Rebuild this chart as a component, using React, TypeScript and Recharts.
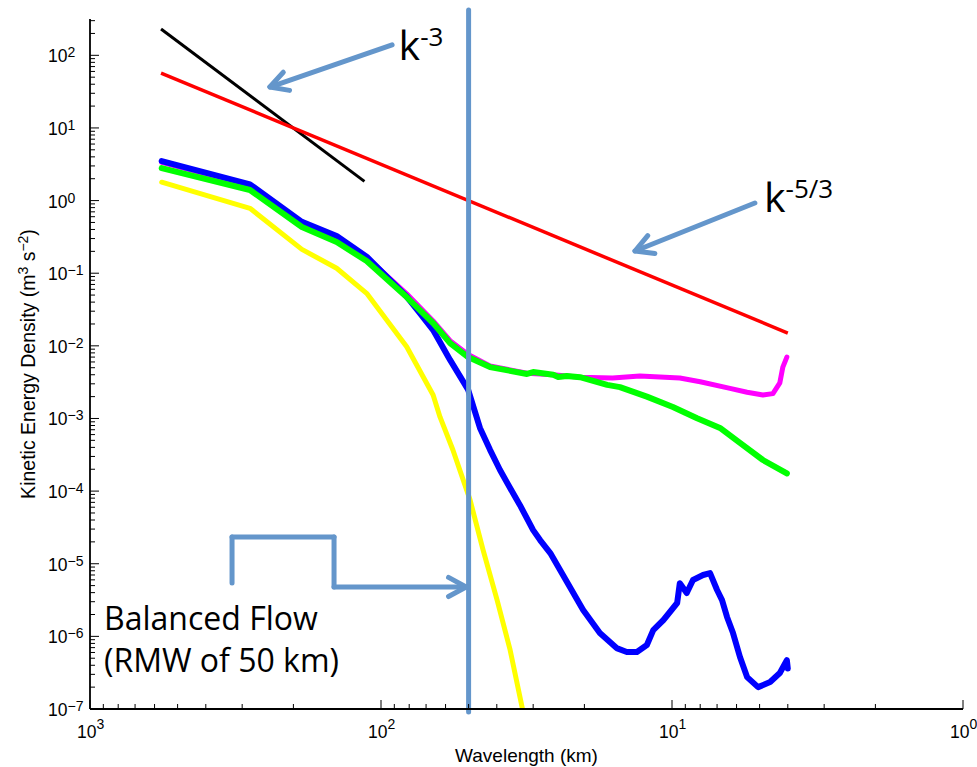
import React from 'react';
import { LineChart, Line, XAxis, YAxis, ReferenceLine, ReferenceDot } from 'recharts';

// ---------- data (wavelength in km, kinetic energy density) ----------
const blueSeries: [number, number][] = [
  [567, 3.5], [282, 1.67], [187, 0.51], [142, 0.325], [112, 0.169], [81.6, 0.0475],
  [74.0, 0.029], [66.2, 0.0165], [57.9, 0.0064], [50.2, 0.0025], [45.7, 7.4e-4],
  [42.2, 3.7e-4], [39.0, 1.95e-4], [35.2, 9.4e-5], [33.3, 6.4e-5], [30.0, 2.9e-5],
  [28.4, 2.12e-5], [26.2, 1.4e-5], [20.2, 2.31e-6], [17.7, 1.11e-6], [15.5, 6.9e-7],
  [14.3, 6.1e-7], [13.2, 6.1e-7], [12.2, 7.6e-7], [11.6, 1.22e-6], [10.7, 1.68e-6],
  [9.6, 2.88e-6], [9.4, 5.4e-6], [8.9, 3.95e-6], [8.47, 5.97e-6], [7.82, 7.0e-6],
  [7.4, 7.45e-6], [7.0, 4.35e-6], [6.73, 3.16e-6], [6.47, 1.85e-6], [6.17, 1.11e-6],
  [5.84, 5.2e-7], [5.52, 2.75e-7], [5.06, 2.0e-7], [4.6, 2.35e-7], [4.26, 3.13e-7],
  [4.03, 4.7e-7], [4.0, 3.6e-7],
];
const magentaSeries: [number, number][] = [
  [567, 3.35], [282, 1.6], [187, 0.49], [142, 0.31], [112, 0.165], [81.6, 0.052],
  [66.2, 0.022], [57.9, 0.0118], [50.2, 0.0076], [42.2, 0.0053], [31.5, 0.0042],
  [25.6, 0.004], [20.7, 0.0037], [16.0, 0.0036], [12.9, 0.00385], [9.4, 0.0036],
  [8.0, 0.0032], [6.32, 0.0026], [5.52, 0.0023], [4.87, 0.0021], [4.5, 0.0022],
  [4.26, 0.0031], [4.16, 0.0051], [4.03, 0.007],
];
const greenSeries: [number, number][] = [
  [567, 2.8], [282, 1.4], [187, 0.433], [142, 0.269], [112, 0.147], [81.6, 0.047],
  [66.2, 0.0206], [57.9, 0.0109], [50.2, 0.007], [42.2, 0.0051], [31.5, 0.0041],
  [30.0, 0.00436], [25.6, 0.004], [24.6, 0.00372], [23.0, 0.00385], [20.7, 0.0037],
  [16.7, 0.0029], [15.1, 0.0027], [12.2, 0.002], [9.93, 0.00144], [8.2, 0.00101],
  [6.84, 7.4e-4], [5.84, 4.6e-4], [4.87, 2.68e-4], [4.03, 1.75e-4],
];
const yellowSeries: [number, number][] = [
  [567, 1.79], [282, 0.783], [187, 0.213], [142, 0.117], [112, 0.0529], [81.6, 0.00973],
  [66.2, 0.0021], [62.7, 0.00105], [56.6, 3.68e-4], [49.4, 7.5e-5], [44.6, 1.55e-5],
  [39.9, 3.16e-6], [36.0, 6.5e-7], [32.7, 1.03e-7],
];
const kMinus3Series: [number, number][] = [[570, 230], [114, 1.84]];
const kMinus53Series: [number, number][] = [[570, 57], [4.0, 0.015]];

// ---------- axes ----------
const xMajorTicks = [1000, 100, 10, 1];
const xTickExponents = ['3', '2', '1', '0'];
const yMajorTicks = [1e-7, 1e-6, 1e-5, 1e-4, 1e-3, 1e-2, 1e-1, 1, 10, 100];
const yTickExponents = ['−7', '−6', '−5', '−4', '−3', '−2', '−1', '0', '1', '2'];
const minorMultipliers = [2, 3, 4, 5, 6, 7, 8, 9];
const xDomain: [number, number] = [1, 1000];
const yDomain: [number, number] = [1e-7, 316.2278];

// ---------- annotations (data coordinates) ----------
const rmwKm = 50;
const rmwLineEnds: [number, number] = [9.1e-8, 421];
const kMinus3Arrow: [number, number][] = [[91.6, 139], [241, 36.6]];
const kMinus53Arrow: [number, number][] = [[5.19, 0.926], [13.4, 0.202]];
const bracketPath: [number, number][] = [[325, 5.43e-6], [325, 2.33e-5], [145, 2.33e-5], [145, 4.79e-6], [51, 4.79e-6]];
const kMinus3LabelPos: [number, number] = [87, 86];
const kMinus53LabelPos: [number, number] = [4.83, 0.7];
const balancedLabelPos: [number, number] = [895, 1.22e-6];

const toPoints = (s: [number, number][]) => s.map(([x, y]) => ({ x, y }));
const withMinor = (majors: number[], max: number) => {
  const out: number[] = [];
  majors.forEach((m) => {
    out.push(m);
    minorMultipliers.forEach((k) => {
      const v = m * k;
      if (v < max) out.push(v);
    });
  });
  return out.sort((a, b) => a - b);
};
const xTicks = withMinor([1, 10, 100], 1000).concat([1000]);
const yTicks = withMinor(yMajorTicks, yDomain[1]);

const isMajor = (v: number) => Math.abs(Math.log10(v) - Math.round(Math.log10(v))) < 1e-6;
const findIdx = (arr: number[], v: number) => arr.findIndex((m) => Math.abs(Math.log10(m) - Math.log10(v)) < 1e-6);

const AXIS_FONT = '"Liberation Sans", Arial, Helvetica, sans-serif';
const NOTE_FONT = '"Open Sans", "Noto Sans", sans-serif';
const NOTE_COLOR = '#6496cb';
const MAJOR = 9;
const MINOR = 5;

const LeftTick = (props: any) => {
  const { x, y, payload } = props;
  const v = payload.value;
  const major = isMajor(v);
  const idx = findIdx(yMajorTicks, v);
  return (
    <g>
      <line x1={x} y1={y} x2={x + (major ? MAJOR : MINOR)} y2={y} stroke="#000" strokeWidth={1} />
      {major && idx >= 0 && (
        <text x={x - 42} y={y + 7} fontFamily={AXIS_FONT} fontSize={17.5} fill="#000">
          10<tspan dy={-5} fontSize={14}>{yTickExponents[idx]}</tspan>
        </text>
      )}
    </g>
  );
};
const RightTick = (props: any) => {
  const { x, y, payload } = props;
  const major = isMajor(payload.value);
  return <line x1={x} y1={y} x2={x - (major ? MAJOR : MINOR)} y2={y} stroke="#000" strokeWidth={1} />;
};
const BottomTick = (props: any) => {
  const { x, y, payload } = props;
  const v = payload.value;
  const major = isMajor(v);
  const idx = findIdx(xMajorTicks, v);
  return (
    <g>
      <line x1={x} y1={y} x2={x} y2={y - (major ? MAJOR : MINOR)} stroke="#000" strokeWidth={1} />
      {major && idx >= 0 && (
        <text x={x - 13} y={y + 29} fontFamily={AXIS_FONT} fontSize={17.5} fill="#000">
          10<tspan dy={-9} fontSize={14}>{xTickExponents[idx]}</tspan>
        </text>
      )}
    </g>
  );
};
const TopTick = (props: any) => {
  const { x, y, payload } = props;
  const major = isMajor(payload.value);
  return <line x1={x} y1={y} x2={x} y2={y + (major ? MAJOR : MINOR)} stroke="#000" strokeWidth={1} />;
};

const YTitle = (props: any) => {
  const vb = props.viewBox || { x: 0, y: 19, width: 90, height: 690 };
  const cx = vb.x + 35;
  const cy = vb.y + vb.height / 2;
  return (
    <text x={cx} y={cy} textAnchor="middle" transform={`rotate(-90, ${cx}, ${cy})`} fontFamily={AXIS_FONT} fontSize={19.5} fill="#000">
      Kinetic Energy Density (m<tspan dy={-7} fontSize={14}>3</tspan>
      <tspan dy={7}> s</tspan>
      <tspan dy={-7} fontSize={14}>−2</tspan>
      <tspan dy={7}>)</tspan>
    </text>
  );
};
const XTitle = (props: any) => {
  const vb = props.viewBox || { x: 90, y: 709, width: 873, height: 58 };
  return (
    <text x={vb.x + vb.width / 2} y={vb.y + 53} textAnchor="middle" fontFamily={AXIS_FONT} fontSize={19} fill="#000">
      Wavelength (km)
    </text>
  );
};

const SegmentShape = (props: any) => {
  const { x1, y1, x2, y2 } = props;
  return <line x1={x1} y1={y1} x2={x2} y2={y2} stroke={NOTE_COLOR} strokeWidth={5} strokeLinecap="round" />;
};
const ArrowShape = (props: any) => {
  const { x1, y1, x2, y2 } = props;
  const a = Math.atan2(y2 - y1, x2 - x1);
  const L = 20;
  const s = 0.5;
  const w1x = x2 - L * Math.cos(a - s);
  const w1y = y2 - L * Math.sin(a - s);
  const w2x = x2 - L * Math.cos(a + s);
  const w2y = y2 - L * Math.sin(a + s);
  return (
    <g>
      <line x1={x1} y1={y1} x2={x2} y2={y2} stroke={NOTE_COLOR} strokeWidth={5} strokeLinecap="round" />
      <polyline points={`${w1x},${w1y} ${x2},${y2} ${w2x},${w2y}`} fill="none" stroke={NOTE_COLOR} strokeWidth={5} strokeLinecap="round" strokeLinejoin="round" />
    </g>
  );
};
const KLabel = (exp: string) => (props: any) => (
  <text x={props.cx} y={props.cy} fontFamily={NOTE_FONT} fontSize={41} fill="#000">
    k<tspan dy={-14} fontSize={26}>{exp}</tspan>
  </text>
);
const BalancedLabel = (props: any) => (
  <text x={props.cx} y={props.cy} fontFamily={NOTE_FONT} fontSize={32} fill="#000">
    <tspan x={props.cx}>Balanced Flow</tspan>
    <tspan x={props.cx} dy={42}>(RMW of 50 km)</tspan>
  </text>
);

const lineCommon = { dot: false, isAnimationActive: false, strokeLinejoin: 'round' as const, strokeLinecap: 'round' as const };

export default function App() {
  return (
    <div style={{ position: 'absolute', left: 0, top: 0, background: '#fff' }}>
      <LineChart width={977} height={767} margin={{ top: 19, right: 14, bottom: 0, left: 0 }}>
        <XAxis
          xAxisId={0}
          dataKey="x"
          type="number"
          scale="log"
          domain={xDomain}
          allowDataOverflow
          reversed
          ticks={xTicks}
          interval={0}
          tickSize={0}
          tickMargin={0}
          tickLine={false}
          tick={<BottomTick />}
          axisLine={{ stroke: '#000', strokeWidth: 1.8 }}
          height={58}
          label={(p: any) => <XTitle {...p} />}
        />
        <XAxis
          xAxisId="top"
          orientation="top"
          dataKey="x"
          type="number"
          scale="log"
          domain={xDomain}
          allowDataOverflow
          reversed
          ticks={xTicks}
          interval={0}
          tickSize={0}
          tickMargin={0}
          tickLine={false}
          tick={<TopTick />}
          axisLine={{ stroke: '#000', strokeWidth: 1.8 }}
          height={0}
        />
        <YAxis
          yAxisId={0}
          dataKey="y"
          type="number"
          scale="log"
          domain={yDomain}
          allowDataOverflow
          ticks={yTicks}
          interval={0}
          tickSize={0}
          tickMargin={0}
          tickLine={false}
          tick={<LeftTick />}
          axisLine={{ stroke: '#000', strokeWidth: 1.8 }}
          width={90}
          label={(p: any) => <YTitle {...p} />}
        />
        <YAxis
          yAxisId="right"
          orientation="right"
          dataKey="y"
          type="number"
          scale="log"
          domain={yDomain}
          allowDataOverflow
          ticks={yTicks}
          interval={0}
          tickSize={0}
          tickMargin={0}
          tickLine={false}
          tick={<RightTick />}
          axisLine={{ stroke: '#000', strokeWidth: 1.8 }}
          width={0}
        />

        <Line data={toPoints(kMinus3Series)} dataKey="y" stroke="#000000" strokeWidth={3} {...lineCommon} strokeLinecap="butt" />
        <Line data={toPoints(kMinus53Series)} dataKey="y" stroke="#ff0000" strokeWidth={3.5} {...lineCommon} strokeLinecap="butt" />
        <Line data={toPoints(yellowSeries)} dataKey="y" stroke="#ffff00" strokeWidth={5} {...lineCommon} />
        <Line data={toPoints(magentaSeries)} dataKey="y" stroke="#ff00ff" strokeWidth={5} {...lineCommon} />
        <Line data={toPoints(blueSeries)} dataKey="y" stroke="#0000ff" strokeWidth={6} {...lineCommon} />
        <Line data={toPoints(greenSeries)} dataKey="y" stroke="#00ff00" strokeWidth={6} {...lineCommon} />

        <ReferenceLine
          segment={[{ x: rmwKm, y: rmwLineEnds[0] }, { x: rmwKm, y: rmwLineEnds[1] }]}
          ifOverflow="visible"
          shape={(p: any) => <SegmentShape {...p} />}
        />
        <ReferenceLine
          segment={[{ x: kMinus3Arrow[0][0], y: kMinus3Arrow[0][1] }, { x: kMinus3Arrow[1][0], y: kMinus3Arrow[1][1] }]}
          ifOverflow="visible"
          shape={(p: any) => <ArrowShape {...p} />}
        />
        <ReferenceLine
          segment={[{ x: kMinus53Arrow[0][0], y: kMinus53Arrow[0][1] }, { x: kMinus53Arrow[1][0], y: kMinus53Arrow[1][1] }]}
          ifOverflow="visible"
          shape={(p: any) => <ArrowShape {...p} />}
        />
        {bracketPath.slice(0, -1).map((pt, i) => {
          const next = bracketPath[i + 1];
          const last = i === bracketPath.length - 2;
          return (
            <ReferenceLine
              key={`br-${i}`}
              segment={[{ x: pt[0], y: pt[1] }, { x: next[0], y: next[1] }]}
              ifOverflow="visible"
              shape={(p: any) => (last ? <ArrowShape {...p} /> : <SegmentShape {...p} />)}
            />
          );
        })}
        <ReferenceDot x={kMinus3LabelPos[0]} y={kMinus3LabelPos[1]} ifOverflow="visible" shape={KLabel('-3')} />
        <ReferenceDot x={kMinus53LabelPos[0]} y={kMinus53LabelPos[1]} ifOverflow="visible" shape={KLabel('-5/3')} />
        <ReferenceDot x={balancedLabelPos[0]} y={balancedLabelPos[1]} ifOverflow="visible" shape={BalancedLabel} />
      </LineChart>
    </div>
  );
}
